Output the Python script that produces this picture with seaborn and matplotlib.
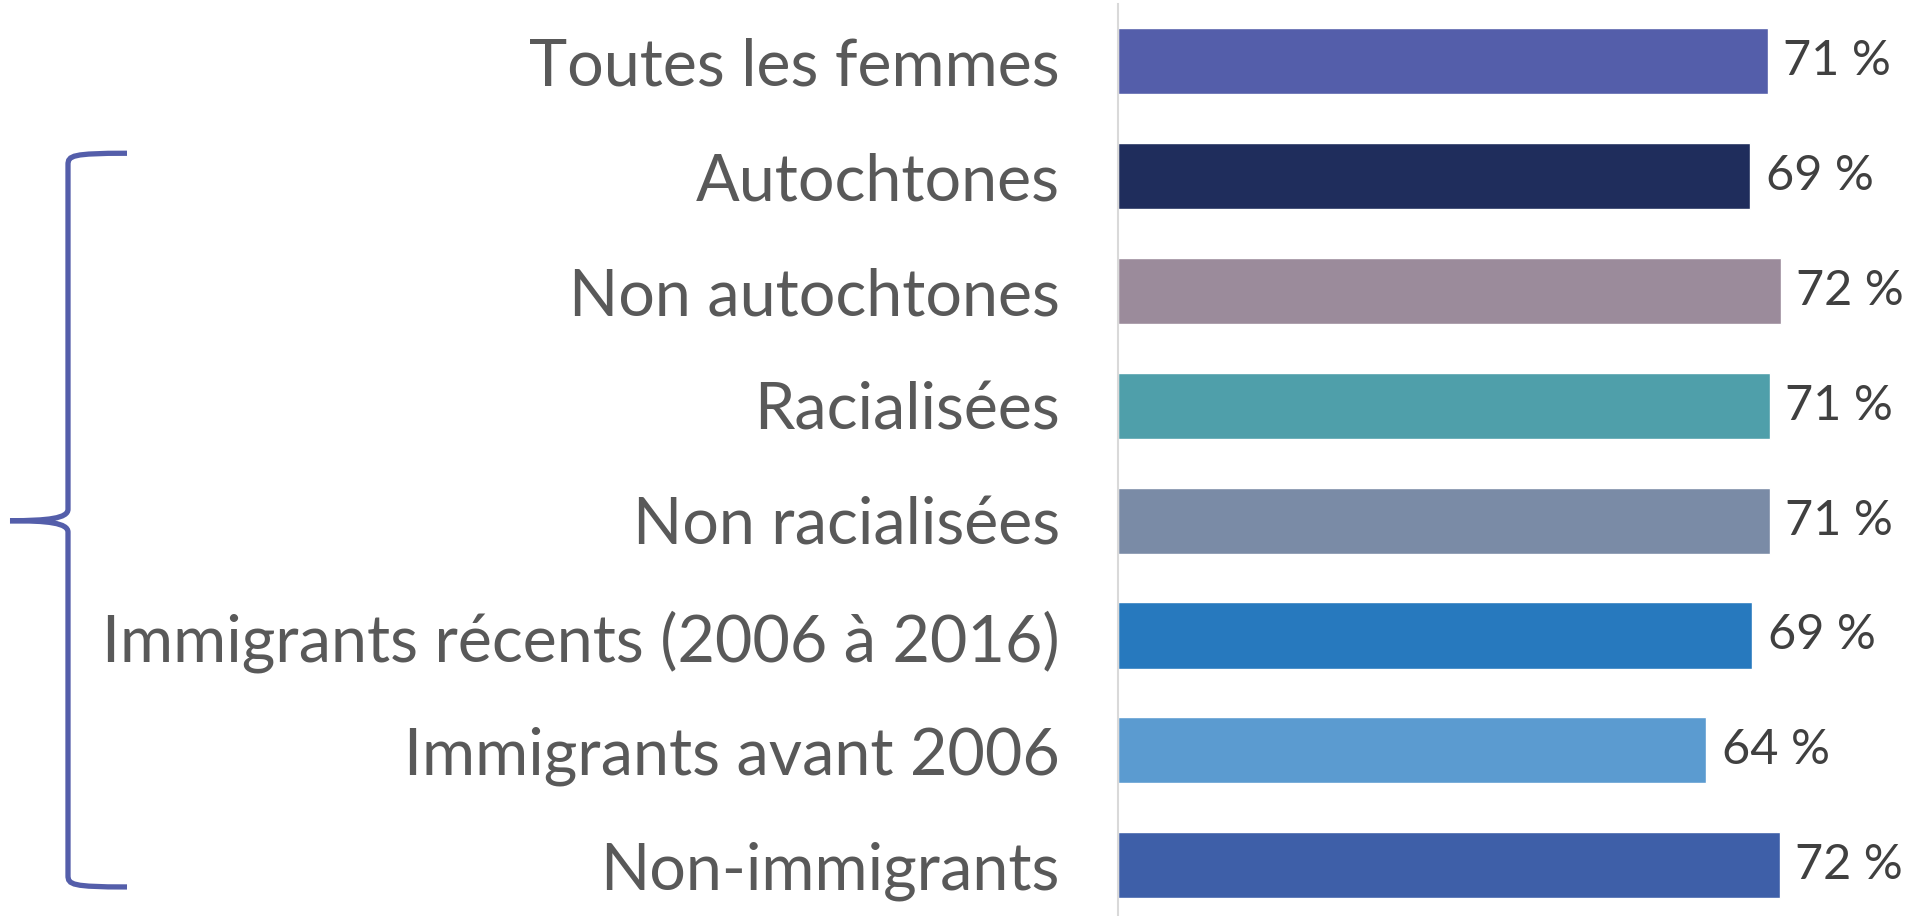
import matplotlib
matplotlib.use("Agg")
import matplotlib.pyplot as plt
import matplotlib.transforms as mtransforms
from matplotlib.path import Path
from matplotlib.patches import PathPatch
import seaborn as sns
import pandas as pd

categories = [
    "Toutes les femmes",
    "Autochtones",
    "Non autochtones",
    "Racialisées",
    "Non racialisées",
    "Immigrants récents (2006 à 2016)",
    "Immigrants avant 2006",
    "Non-immigrants",
]
values = [70.7, 68.8, 72.1, 70.9, 70.9, 69.0, 64.0, 72.0]
value_labels = ["71 %", "69 %", "72 %", "71 %", "71 %", "69 %", "64 %", "72 %"]
colors = ["#545EAA", "#1F2D5C", "#9B8B9B", "#4F9FAA", "#7A8BA6", "#2779BE", "#5B9BD0", "#3E5FA8"]

df = pd.DataFrame({"cat": categories, "val": values})

sns.set_theme(style="white")
plt.rcParams["font.family"] = ["Lato", "DejaVu Sans"]

W, H = 1926, 916
fig = plt.figure(figsize=(W / 100, H / 100), dpi=100)
ax = fig.add_axes([1118 / W, 0, 1 - 1118 / W, (H - 4) / H])

sns.barplot(data=df, x="val", y="cat", hue="cat", palette=colors, orient="h",
            width=0.575, legend=False, ax=ax, saturation=1)

ax.set_xlim(0, 87.9)
ax.set_ylim(7.443, -0.5)
ax.set_xlabel("")
ax.set_ylabel("")
ax.set_xticks([])
for s in ["top", "right", "bottom"]:
    ax.spines[s].set_visible(False)
ax.spines["left"].set_color("#D9D9D9")
ax.spines["left"].set_linewidth(1.5)
ax.tick_params(axis="y", length=0, pad=42)
for lab in ax.get_yticklabels():
    lab.set_fontsize(46.5)
    lab.set_color("#595959")

for i, (v, t) in enumerate(zip(values, value_labels)):
    ax.annotate(t, xy=(v, i), xytext=(11, 0), textcoords="offset points",
                va="center", ha="left", fontsize=35, color="#404040")

# bracket grouping the sub-categories (x in figure pixels, y in data coords)
trans = mtransforms.blended_transform_factory(
    mtransforms.Affine2D().scale(1 / W, 1) + fig.transFigure, ax.transData)
top, bot, mid = 1 - 0.2, 7 + 0.19, 4.0
xv, xtip, xarm = 68, 10, 127
r = 0.1
verts = [
    (xarm, top), (xv + 4, top + 0.0), (xv, top + 0.02), (xv, top + r),
    (xv, mid - r), (xv, mid - 0.02), (xv - 20, mid), (xtip, mid),
    (xv - 20, mid), (xv, mid + 0.02), (xv, mid + r),
    (xv, bot - r), (xv, bot - 0.02), (xv + 4, bot), (xarm, bot),
]
codes = [Path.MOVETO, Path.CURVE4, Path.CURVE4, Path.CURVE4,
         Path.LINETO, Path.CURVE4, Path.CURVE4, Path.CURVE4,
         Path.CURVE4, Path.CURVE4, Path.CURVE4,
         Path.LINETO, Path.CURVE4, Path.CURVE4, Path.CURVE4]
patch = PathPatch(Path(verts, codes), transform=trans, facecolor="none",
                  edgecolor="#545EAA", lw=3.8, clip_on=False, capstyle="butt")
fig.add_artist(patch)

fig.savefig("out.png", dpi=100)
